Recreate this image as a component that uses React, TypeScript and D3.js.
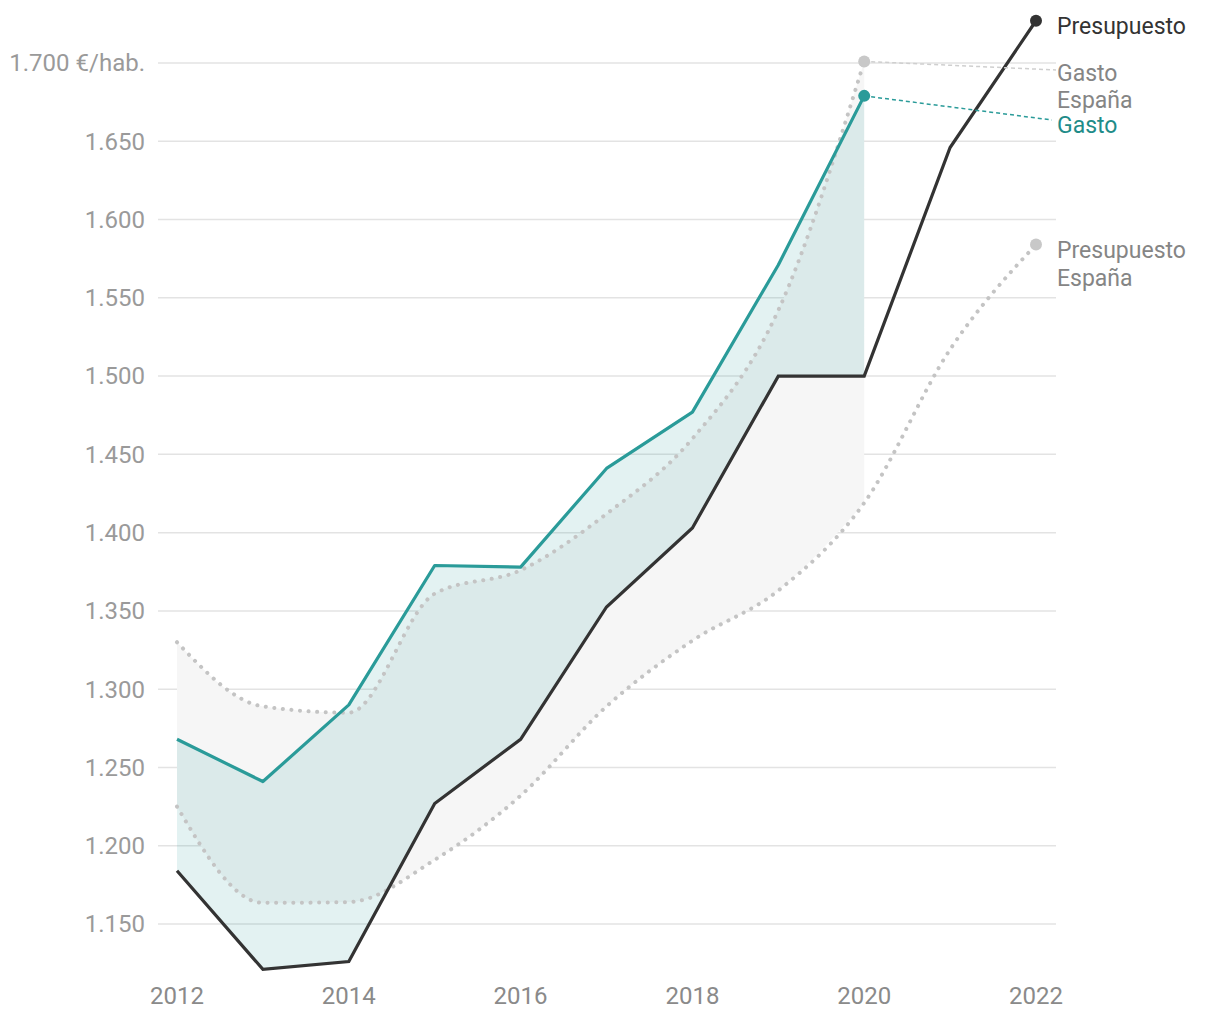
import React from "react";
import * as d3 from "d3";

const years = [2012, 2013, 2014, 2015, 2016, 2017, 2018, 2019, 2020, 2021, 2022];
const presupuesto = [1184, 1121, 1126, 1227, 1268, 1352.5, 1403, 1500, 1500, 1646, 1727];
const gasto = [1268, 1241, 1290, 1379, 1378, 1441, 1477, 1571, 1679];
const gastoEspana = [1330, 1289, 1285, 1361, 1376, 1412, 1460, 1542, 1701];
const presupuestoEspana = [1225, 1163.5, 1164, 1191, 1232, 1289, 1331, 1363, 1419, 1517, 1584];
const yTicks = [1150, 1200, 1250, 1300, 1350, 1400, 1450, 1500, 1550, 1600, 1650, 1700];
const xTicks = [2012, 2014, 2016, 2018, 2020, 2022];

const W = 1220;
const H = 1020;

export default function App() {
  const x = d3.scaleLinear().domain([2012, 2022]).range([177, 1036]);
  const y = d3.scaleLinear().domain([1150, 1700]).range([924, 63]);
  const fmt = (v: number) => d3.format(",")(v).replace(",", ".");

  const lin = d3.line<[number, number]>().x((d) => x(d[0])).y((d) => y(d[1]));
  const smooth = d3.line<[number, number]>().x((d) => x(d[0])).y((d) => y(d[1])).curve(d3.curveMonotoneX);

  const pts = (vals: number[]) => vals.map((v, i) => [years[i], v] as [number, number]);

  const n = gasto.length;
  const greyArea = d3
    .area<number>()
    .x((i) => x(years[i]))
    .y0((i) => y(presupuestoEspana[i]))
    .y1((i) => y(gastoEspana[i]))
    .curve(d3.curveMonotoneX)(d3.range(n));
  const tealArea = d3
    .area<number>()
    .x((i) => x(years[i]))
    .y0((i) => y(presupuesto[i]))
    .y1((i) => y(gasto[i]))(d3.range(n));

  const teal = "#2a9b99";
  const dotStyle = { stroke: "#c4c4c4", strokeWidth: 4, strokeDasharray: "0.1 8.5", strokeLinecap: "round" as const, fill: "none" };
  const last = n - 1;
  const font = "Roboto, sans-serif";

  return (
    <svg width={W} height={H} style={{ position: "absolute", left: 0, top: 0 }} fontFamily={font}>
      {yTicks.map((t) => (
        <g key={t}>
          <line x1={158} x2={1056} y1={y(t)} y2={y(t)} stroke="#e3e3e3" strokeWidth={1.5} />
          <text x={145} y={y(t)} dy="0.35em" textAnchor="end" fontSize={24} fill="#9a9a9a">
            {t === 1700 ? `${fmt(t)} €/hab.` : fmt(t)}
          </text>
        </g>
      ))}
      {xTicks.map((t) => (
        <text key={t} x={x(t)} y={1004} textAnchor="middle" fontSize={24} fill="#8a8a8a">
          {t}
        </text>
      ))}
      <path d={greyArea || ""} fill="#f6f6f6" />
      <path d={tealArea || ""} fill={teal} fillOpacity={0.13} />
      <path d={smooth(pts(gastoEspana)) || ""} {...dotStyle} />
      <path d={smooth(pts(presupuestoEspana)) || ""} {...dotStyle} />
      <path d={lin(pts(gasto)) || ""} fill="none" stroke={teal} strokeWidth={3.2} strokeLinejoin="round" />
      <path d={lin(pts(presupuesto)) || ""} fill="none" stroke="#333" strokeWidth={3.2} />

      <line x1={x(2020)} y1={y(gastoEspana[last])} x2={1056} y2={70} stroke="#cfcfcf" strokeWidth={1.5} strokeDasharray="4 3" />
      <line x1={x(2020)} y1={y(gasto[last])} x2={1052} y2={120} stroke={teal} strokeWidth={1.5} strokeDasharray="4 3" />

      <circle cx={x(2020)} cy={y(gastoEspana[last])} r={6} fill="#c8c8c8" />
      <circle cx={x(2020)} cy={y(gasto[last])} r={6} fill={teal} />
      <circle cx={x(2022)} cy={y(presupuesto[10])} r={6} fill="#333" />
      <circle cx={x(2022)} cy={y(presupuestoEspana[10])} r={6} fill="#c8c8c8" />

      <text x={1057} y={34} fontSize={23} fill="#333">Presupuesto</text>
      <text x={1057} y={81} fontSize={23} fill="#858585">Gasto</text>
      <text x={1057} y={108} fontSize={23} fill="#858585">España</text>
      <text x={1057} y={133} fontSize={23} fill="#1f8c89">Gasto</text>
      <text x={1057} y={258} fontSize={23} fill="#858585">Presupuesto</text>
      <text x={1057} y={286} fontSize={23} fill="#858585">España</text>
    </svg>
  );
}
